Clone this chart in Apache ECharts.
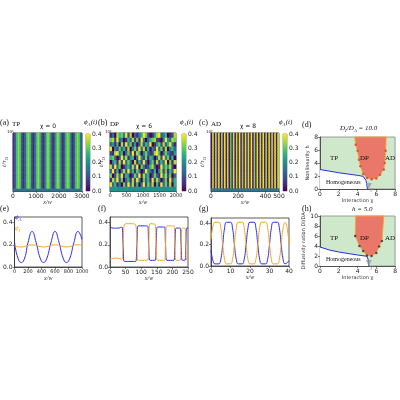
<!DOCTYPE html><html><head><meta charset="utf-8">
<script src="https://cdn.jsdelivr.net/npm/echarts@6/dist/echarts.min.js"></script>
<style>html,body{margin:0;background:#fff}#c{width:400px;height:400px}</style></head><body><div id="c"></div>
<script>
// ---- data ----
const aCols=[0.05,0.12,0.28,0.33,0.28,0.12,0.05,0.12,0.28,0.33,0.28,0.12,0.05,0.12,0.28,0.33,0.28,0.12,0.05,0.12,0.28,0.33,0.28,0.12,0.05,0.12,0.28,0.33,0.28,0.12,0.05,0.12,0.28,0.33,0.28,0.12,0.05,0.12,0.28,0.33,0.28,0.12];
const aBottom=0.15;
const bRows=["936140729381604927380619372806","184927036182940736192840371926","702839164027391846027319482703","391604829361740295316048271639","829370146283907412683019475820","046182937408162930471826390718","673029481560394271650382947160","218946037291860473128960374215","904273618047293816042937180463","351608294715038264901572836941","782934016382719403678210495387","130867492803146972015893460128"];
const bBottom=0.2;
const cCols=[0.02,0.38,0.03,0.36,0.05,0.39,0.02,0.35,0.04,0.4,0.03,0.37,0.02,0.3,0.05,0.38,0.02,0.36,0.04,0.39,0.03,0.34,0.02,0.38,0.05,0.37,0.03,0.4,0.02,0.33,0.04,0.38,0.02,0.36,0.05,0.39,0.03,0.35,0.02,0.38,0.04,0.37,0.03,0.4,0.02,0.36];
const eBlue=[[0,0.22],[50,0.08],[100,0.04],[150,0.08],[200,0.22],[260,0.32],[320,0.22],[380,0.08],[430,0.04],[480,0.08],[540,0.22],[600,0.32],[660,0.22],[720,0.08],[770,0.04],[820,0.08],[880,0.22],[940,0.32],[1000,0.25]];
const eOrange=[[0,0.19],[100,0.18],[260,0.2],[430,0.18],[600,0.2],[770,0.18],[940,0.2],[1000,0.195]];
const fBlue=[[0,0.36],[10,0.35],[25,0.35],[38,0.36],[42,0.2],[46,0.05],[60,0.05],[82,0.05],[86,0.2],[90,0.37],[110,0.37],[120,0.37],[124,0.2],[128,0.06],[145,0.06],[148,0.2],[152,0.36],[175,0.36],[178,0.2],[182,0.06],[205,0.06],[208,0.2],[212,0.35],[225,0.35],[228,0.2],[232,0.06],[240,0.06],[243,0.2],[246,0.35],[250,0.35]];
const fOrange=[[0,0.07],[20,0.08],[38,0.07],[42,0.2],[46,0.38],[60,0.39],[82,0.38],[86,0.2],[90,0.06],[120,0.06],[124,0.2],[128,0.39],[145,0.38],[148,0.2],[152,0.06],[175,0.06],[178,0.2],[182,0.37],[205,0.37],[208,0.2],[212,0.06],[225,0.06],[228,0.2],[232,0.35],[240,0.35],[243,0.2],[246,0.06],[250,0.06]];
const gBlue=[[0,0.15],[1,0.05],[2,0.02],[4,0.02],[5,0.06],[6,0.2],[7,0.36],[8,0.41],[10,0.41],[11,0.36],[12,0.2],[13,0.06],[14,0.02],[16,0.02],[17,0.06],[18,0.2],[19,0.36],[20,0.41],[22,0.41],[23,0.36],[24,0.2],[25,0.06],[26,0.02],[28,0.02],[29,0.06],[30,0.2],[31,0.36],[32,0.41],[34,0.41],[35,0.36],[36,0.2],[37,0.06],[38,0.02],[40,0.05]];
const gOrange=[[0,0.25],[1,0.37],[2,0.41],[4,0.41],[5,0.36],[6,0.2],[7,0.06],[8,0.02],[10,0.02],[11,0.06],[12,0.2],[13,0.36],[14,0.41],[16,0.41],[17,0.36],[18,0.2],[19,0.06],[20,0.02],[22,0.02],[23,0.06],[24,0.2],[25,0.36],[26,0.41],[28,0.41],[29,0.36],[30,0.2],[31,0.06],[32,0.02],[34,0.02],[35,0.06],[36,0.2],[37,0.36],[38,0.41],[40,0.2]];
const dDP=[[3.7,8],[3.8,6.8],[4.0,5.9],[4.15,4.5],[4.3,3.5],[4.6,2.3],[5.0,1.7],[5.5,1.5],[6.0,1.6],[6.4,2.2],[6.8,3.0],[6.9,4.0],[7.0,5.9],[7.05,8]];
const dBlue=[[0,3],[1,2.75],[2,2.5],[3,2.3],[4,2.1],[4.6,1.95],[4.9,1.3],[5.0,0.5],[5.05,0]];
const hDP=[[3.8,10],[3.75,6],[4.2,4],[4.6,3],[5.0,2.1],[5.5,2.0],[6.0,2.6],[6.3,3.9],[6.6,5.0],[6.8,10]];
const hBlue=[[0,3.8],[1,3.2],[2,2.8],[3,2.5],[4,2.2],[5,1.95],[5.15,1.2],[5.2,0]];
const chiC=[5.2,0];

const viridis=['#440154','#482878','#3e4989','#31688e','#26828e','#1f9e89','#35b779','#6ece58','#b5de2b','#fde725'];
const F='Liberation Serif';const FS='DejaVu Sans';
const chart=echarts.init(document.getElementById('c'));
const grids=[],xAxes=[],yAxes=[],series=[],texts=[];
function G(l,t,w,h){grids.push({left:l,top:t,width:w,height:h,show:true,borderColor:'#333',borderWidth:0.8,backgroundColor:'transparent'});return grids.length-1;}
const axl={fontSize:6,color:'#222',fontFamily:FS,margin:2,formatter:v=>String(v)};
const tk={length:2,lineStyle:{color:'#333',width:0.6}};
function valX(gi,min,max,iv,name){xAxes.push({gridIndex:gi,type:'value',position:'bottom',min,max,interval:iv,axisLabel:axl,axisTick:tk,axisLine:{lineStyle:{color:'#333',width:0.8}},splitLine:{show:false},name,nameLocation:'middle',nameGap:8,nameTextStyle:{fontSize:6,fontFamily:F,fontStyle:'italic'}});return xAxes.length-1;}
function valY(gi,min,max,iv,name,opt){yAxes.push(Object.assign({gridIndex:gi,type:'value',position:'left',min,max,interval:iv,axisLabel:axl,axisTick:tk,axisLine:{lineStyle:{color:'#333',width:0.8}},splitLine:{show:false},name,nameLocation:'middle',nameGap:10,nameTextStyle:{fontSize:5,fontFamily:FS}},opt||{}));return yAxes.length-1;}
const rich={s:{fontSize:5,verticalAlign:'bottom',fontStyle:'italic',fontFamily:F,padding:[4,0,0,0]},i:{fontSize:7,fontStyle:'italic',fontFamily:F}};
function t(x,y,s,o){texts.push({type:'text',left:x,top:y,z:100,style:Object.assign({text:s,fontSize:8,fontFamily:F,fill:'#111',rich},o||{})});}

function heat(l,top,w,h,nCols,rowsFn,nRows,xmax,xiv,name,fs){
  const gi=G(l,top,w,h);
  const xi=xAxes.length;xAxes.push({gridIndex:gi,type:'category',position:'top',data:[...Array(nCols).keys()],show:false});
  const xv=valX(gi,0,xmax,xiv,name);xAxes[xv].axisLabel=Object.assign({},axl,{fontSize:fs});
  const yi=yAxes.length;yAxes.push({gridIndex:gi,type:'category',position:'right',data:[...Array(nRows).keys()],show:false});
  valY(gi,0,1,1,'{i|t/τ}{s|D}',{axisLabel:{show:false},axisTick:{show:false},nameGap:4,nameTextStyle:{fontSize:6,fontFamily:F,fontStyle:'italic',rich}});
  const data=[];for(let r=0;r<nRows;r++)for(let c=0;c<nCols;c++)data.push([c,r,rowsFn(r,c)]);
  series.push({type:'heatmap',xAxisIndex:xi,yAxisIndex:yi,data,itemStyle:{borderWidth:0},emphasis:{disabled:true}});
  texts.push({type:'text',left:l-5,top:top-3,style:{text:'10²',fontSize:4,fontFamily:FS,fill:'#222'}});
}
function cbar(l,top,h){
  const gi=G(l,top,4,h);grids[gi].borderWidth=0.5;
  const xi=xAxes.length;xAxes.push({gridIndex:gi,type:'category',data:['a'],show:false});
  const yi=valY(gi,0,0.4,0.1,'',{position:'right',axisLabel:Object.assign({},axl,{formatter:v=>v.toFixed(1)}),axisLine:{show:false}});
  series.push({type:'bar',xAxisIndex:xi,yAxisIndex:yi,data:[0.4],barWidth:'100%',silent:true,
    itemStyle:{color:new echarts.graphic.LinearGradient(0,1,0,0,viridis.map((c,i)=>({offset:i/9,color:c})))}});
}
heat(12,133,70,58,aCols.length,(r,c)=>r===0?aBottom:aCols[c],22,3000,1000,'x/w',6);
cbar(86,134,57);
heat(110,133,66,58,bRows[0].length,(r,c)=>r===0?bBottom:(+bRows[r-1][c])*0.044,bRows.length+1,2000,500,'x/w',5);
cbar(182,134,57);
heat(211,133,68,58,cCols.length,(r,c)=>r===0?0.15:cCols[c],20,500,200,'x/w',6);
cbar(283,134,57);

function linePanel(l,top,w,h,xmax,xiv,b,o,fs){
  const gi=G(l,top,w,h);
  const xi=valX(gi,0,xmax,xiv,'x/w');xAxes[xi].axisLabel=Object.assign({},axl,{fontSize:fs});
  const yi=valY(gi,0,0.45,0.2,'',{axisLabel:Object.assign({},axl,{formatter:v=>v.toFixed(1)})});
  series.push({type:'line',xAxisIndex:xi,yAxisIndex:yi,data:b,smooth:0.5,showSymbol:false,lineStyle:{color:'#2a2af0',width:1}});
  series.push({type:'line',xAxisIndex:xi,yAxisIndex:yi,data:o,smooth:0.5,showSymbol:false,lineStyle:{color:'#f5a623',width:1}});
}
linePanel(12,217,70,50,1000,200,eBlue,eOrange,5);
linePanel(110,217,78,50,250,50,fBlue,fOrange,6);
linePanel(211,218,78,48,40,10,gBlue,gOrange,6);

function phase(l,top,w,h,ymax,yiv,yname,dp,blue,dotCol){
  const gi=G(l,top,w,h);grids[gi].backgroundColor='#cfe8cc';grids[gi].borderColor='#888';
  const xi=valX(gi,0,8,2,'Interaction χ');xAxes[xi].nameTextStyle={fontSize:5,fontFamily:FS};xAxes[xi].nameGap=7;
  const yi=valY(gi,0,ymax,yiv,yname,{nameGap:8});
  series.push({type:'custom',xAxisIndex:xi,yAxisIndex:yi,data:[0],z:3,silent:true,renderItem:(p,api)=>{
    const pts=blue.map(q=>api.coord(q));const o=api.coord([0,0]);
    return {type:'group',children:[
      {type:'polygon',shape:{points:pts.concat([o])},style:{fill:'#fff',stroke:null}},
      {type:'polyline',shape:{points:pts},style:{fill:null,stroke:'#1f2ee0',lineWidth:1}}]};}});
  series.push({type:'custom',xAxisIndex:xi,yAxisIndex:yi,data:[0],z:4,silent:true,renderItem:(p,api)=>({type:'polygon',shape:{points:dp.map(q=>api.coord(q))},style:{fill:'#e9786a',stroke:'#f5a623',lineWidth:0.8}})});
  series.push({type:'scatter',xAxisIndex:xi,yAxisIndex:yi,data:dp.slice(1,-1),symbolSize:2.5,itemStyle:{color:dotCol},z:5});
  series.push({type:'scatter',xAxisIndex:xi,yAxisIndex:yi,data:[chiC],symbol:'triangle',symbolRotate:180,symbolSize:6,symbolOffset:[0,-3],itemStyle:{color:'#999'},z:6});
}
phase(320,137,77,52,8,2,'Nonlinearity h',dDP,dBlue,'#d9452b');
phase(320,216,77,50,10,2,'Diffusivity ration DI/DA',hDP,hBlue,'#333');

const phi='{i|ϕ}{s|A}{i|(t)}';
t(0,119,'(a)');t(12,121,'TP',{fontSize:7});t(40,123,'χ = 0',{fontSize:6,fontFamily:FS});t(84,119,phi);
t(98,119,'(b)');t(110,121,'DP',{fontSize:7});t(136,123,'χ = 6',{fontSize:6,fontFamily:FS});t(180,119,phi);
t(199,119,'(c)');t(211,121,'AD',{fontSize:7});t(240,123,'χ = 8',{fontSize:6,fontFamily:FS});t(279,119,phi);
t(302,121,'(d)');t(340,125,'{i|D}{s|I}{i|/D}{s|A}{i| = 10.0}');
t(0,205,'(e)');t(15,214,'{i|ϕ}{s|A}',{fill:'#2a2af0'});t(15,225,'{i|ϕ}{s|I}',{fill:'#f5a623'});
t(98,205,'(f)');t(199,205,'(g)');
t(302,205,'(h)');t(352,206,'{i|h = 5.0}');
t(330,155,'TP',{fontSize:7});t(360,155,'DP',{fontSize:7});t(385,155,'AD',{fontSize:7});t(326,179,'Homogeneous',{fontSize:6});
t(330,235,'TP',{fontSize:7});t(360,235,'DP',{fontSize:7});t(385,235,'AD',{fontSize:7});t(326,256,'Homogeneous',{fontSize:6});
t(370,186,'χ',{fontSize:6,fill:'#999',fontStyle:'italic'});t(370,264,'χ',{fontSize:6,fill:'#999',fontStyle:'italic'});

chart.setOption({animation:false,grid:grids,xAxis:xAxes,yAxis:yAxes,series,graphic:texts,
  visualMap:[{show:false,min:0,max:0.4,seriesIndex:[0,2,4],inRange:{color:viridis}}]});
</script></body></html>
